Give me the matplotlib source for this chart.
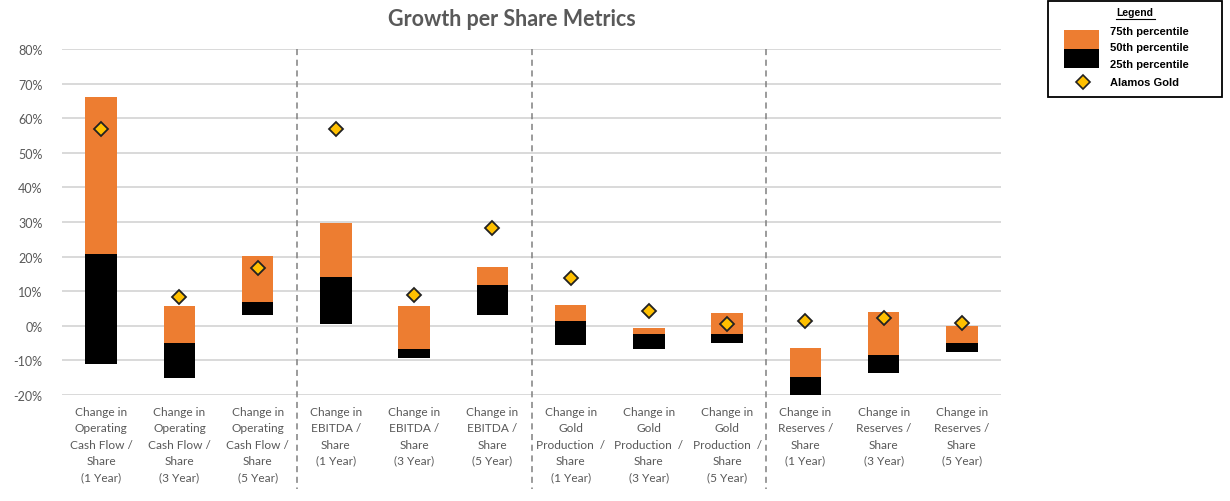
import matplotlib
matplotlib.use("Agg")
import matplotlib.pyplot as plt
from matplotlib.patches import Rectangle
from matplotlib.lines import Line2D
import matplotlib.transforms as mtransforms

categories = [
    "Change in\nOperating\nCash Flow /\nShare\n(1 Year)",
    "Change in\nOperating\nCash Flow /\nShare\n(3 Year)",
    "Change in\nOperating\nCash Flow /\nShare\n(5 Year)",
    "Change in\nEBITDA /\nShare\n(1 Year)",
    "Change in\nEBITDA /\nShare\n(3 Year)",
    "Change in\nEBITDA /\nShare\n(5 Year)",
    "Change in\nGold\nProduction  /\nShare\n(1 Year)",
    "Change in\nGold\nProduction  /\nShare\n(3 Year)",
    "Change in\nGold\nProduction  /\nShare\n(5 Year)",
    "Change in\nReserves /\nShare\n(1 Year)",
    "Change in\nReserves /\nShare\n(3 Year)",
    "Change in\nReserves /\nShare\n(5 Year)",
]
p25 = [-11.1, -15.2, 3.1, 0.6, -9.3, 3.0, -5.5, -6.8, -5.1, -20.0, -13.5, -7.5]
p50 = [20.7, -5.1, 7.0, 14.2, -6.8, 11.8, 1.4, -2.5, -2.3, -14.8, -8.5, -5.1]
p75 = [66.1, 5.7, 20.2, 29.6, 5.7, 17.1, 6.0, -0.6, 3.7, -6.3, 3.9, 0.0]
alamos = [56.8, 8.2, 16.7, 56.8, 9.0, 28.3, 13.9, 4.4, 0.5, 1.4, 2.2, 0.9]
yticks = [-20, -10, 0, 10, 20, 30, 40, 50, 60, 70, 80]
ytick_labels = [f"{v}%" for v in yticks]
group_separators = [2.5, 5.5, 8.5]

ORANGE = "#ED7D31"
BLACK = "#000000"
GOLD = "#FFC000"
GRAY_TXT = "#595959"

plt.rcParams['font.family'] = ['Lato', 'DejaVu Sans']

W, H = 1230, 502
fig = plt.figure(figsize=(W / 100, H / 100), dpi=100)
ax = fig.add_axes([62 / W, 1 - 396 / H, (1001 - 62) / W, (396 - 50) / H])

x = list(range(len(categories)))
ax.set_xlim(-0.5, len(categories) - 0.5)
ax.set_ylim(-20, 80)

for yv in yticks:
    ax.axhline(yv, color="#D9D9D9", lw=1.4, zorder=0)

bw = 0.40
ax.bar(x, [a - b for a, b in zip(p50, p25)], bottom=p25, width=bw,
       color=BLACK, zorder=2)
ax.bar(x, [a - b for a, b in zip(p75, p50)], bottom=p50, width=bw,
       color=ORANGE, zorder=2)
ax.plot(x, alamos, linestyle="none", marker="D", markersize=7.5,
        markerfacecolor=GOLD, markeredgecolor="#222222", markeredgewidth=1.3,
        zorder=4)

trans = mtransforms.blended_transform_factory(ax.transData, ax.transAxes)
bottom_ax = 1 - (490 - 50) / (396 - 50)
for sx in group_separators:
    ax.plot([sx, sx], [1.0, bottom_ax], transform=trans, color="#808080",
            lw=1.1, linestyle=(0, (4, 3)), clip_on=False, zorder=1)

for s in ax.spines.values():
    s.set_visible(False)
ax.set_yticks(yticks)
ax.set_yticklabels(ytick_labels, fontsize=9, color=GRAY_TXT)
ax.set_xticks(x)
ax.set_xticklabels(categories, fontsize=8.6, color=GRAY_TXT, linespacing=1.58,
                   va="top")
ax.tick_params(axis="both", length=0)
ax.tick_params(axis="y", pad=14)
ax.tick_params(axis="x", pad=8)

fig.text(512 / W, 1 - 19 / H, "Growth per Share Metrics", ha="center",
         va="center", fontsize=15.5, fontweight="bold", color=GRAY_TXT)

# Legend box
def px(xp, yp):
    return xp / W, 1 - yp / H

lx0, ly0, lx1, ly1 = 1048, 2, 1222, 98
fig.patches.append(Rectangle(px(lx0, ly1), (lx1 - lx0) / W, (ly1 - ly0) / H,
                             transform=fig.transFigure, facecolor="white",
                             edgecolor="black", lw=1.3))
fig.patches.append(Rectangle(px(1064, 50), 35 / W, 19 / H,
                             transform=fig.transFigure, facecolor=ORANGE,
                             edgecolor="none"))
fig.patches.append(Rectangle(px(1064, 69), 35 / W, 19 / H,
                             transform=fig.transFigure, facecolor=BLACK,
                             edgecolor="none"))
fig.lines.append(Line2D([1083 / W], [1 - 83 / H], transform=fig.transFigure,
                        marker="D", markersize=7, markerfacecolor=GOLD,
                        markeredgecolor="#222222", markeredgewidth=1.2,
                        linestyle="none"))
lfam = ['Liberation Sans', 'DejaVu Sans']
fig.text(*px(1135, 13), "Legend", ha="center", va="center", fontsize=7.5,
         fontweight="bold", family=lfam)
fig.lines.append(Line2D([1116 / W, 1155 / W], [1 - 19.5 / H, 1 - 19.5 / H],
                        transform=fig.transFigure, color="black", lw=0.8))
for yy, t in [(32, "75th percentile"), (48, "50th percentile"),
              (65, "25th percentile"), (83, "Alamos Gold")]:
    fig.text(*px(1110, yy), t, ha="left", va="center", fontsize=8,
             fontweight="bold", family=lfam)

fig.savefig("out.png", dpi=100)
